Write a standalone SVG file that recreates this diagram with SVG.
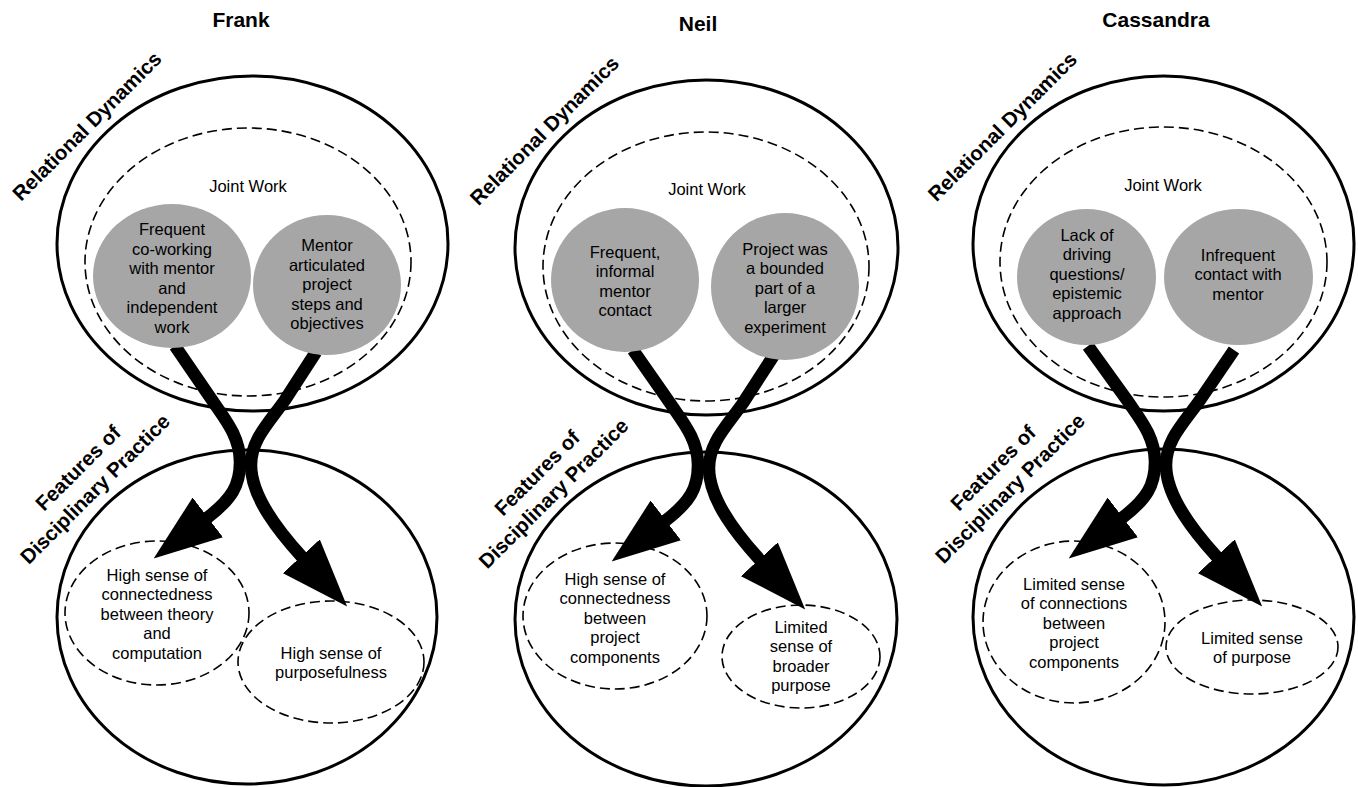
<svg xmlns="http://www.w3.org/2000/svg" width="1358" height="787" viewBox="0 0 1358 787">
<style>
text{font-family:"Liberation Sans",Arial,sans-serif;fill:#000}
.title{font-size:21px;font-weight:bold;text-anchor:middle}
.side{font-size:20.5px;font-weight:bold;text-anchor:middle}
.lbl{font-size:16.5px;text-anchor:middle}
.outer{fill:none;stroke:#000;stroke-width:3}
.dash{fill:none;stroke:#000;stroke-width:1.6;stroke-dasharray:10 5}
.gray{fill:#a6a6a6;stroke:none}
.arrow{fill:none;stroke:#000;stroke-width:12.5;marker-end:url(#head)}
</style>
<defs>
<marker id="head" markerUnits="userSpaceOnUse" viewBox="0 0 68 50" markerWidth="68" markerHeight="50" refX="1" refY="25" orient="auto">
<path d="M0,0 L68,25 L0,50 Z" fill="#000"/>
</marker>
</defs>
<rect width="1358" height="787" fill="#fff"/>

<!-- Frank panel -->
<g id="frank-panel">
<text class="title" x="241" y="27">Frank</text>
<ellipse class="outer" cx="252.5" cy="243.5" rx="195.5" ry="167.5"/>
<ellipse class="outer" cx="247" cy="617" rx="190" ry="167"/>
<text class="side" transform="translate(92,131) rotate(-45)">Relational Dynamics</text>
<text class="side" transform="translate(83,473) rotate(-45)">Features of</text>
<text class="side" transform="translate(100,494) rotate(-45)">Disciplinary Practice</text>
</g>
<g id="frank-joint-work">
<ellipse class="dash" cx="248" cy="262" rx="163" ry="134"/>
<text class="lbl" x="248" y="191.5">Joint Work</text>
</g>
<g id="frank-connectedness">
<ellipse class="dash" cx="157" cy="613" rx="92" ry="72"/>
<text class="lbl" x="157" y="580.5"><tspan x="157">High sense of</tspan><tspan x="157" dy="19.5">connectedness</tspan><tspan x="157" dy="19.5">between theory</tspan><tspan x="157" dy="19.5">and</tspan><tspan x="157" dy="19.5">computation</tspan></text>
</g>
<g id="frank-purposefulness">
<ellipse class="dash" cx="331" cy="662" rx="93" ry="61"/>
<text class="lbl" x="331" y="658.5"><tspan x="331">High sense of</tspan><tspan x="331" dy="19.5">purposefulness</tspan></text>
</g>

<!-- Neil panel -->
<g id="neil-panel">
<text class="title" x="698" y="31">Neil</text>
<ellipse class="outer" cx="706.5" cy="247.5" rx="191.5" ry="167.5"/>
<ellipse class="outer" cx="706" cy="619" rx="191" ry="167"/>
<text class="side" transform="translate(549.5,135.5) rotate(-45)">Relational Dynamics</text>
<text class="side" transform="translate(542,478) rotate(-45)">Features of</text>
<text class="side" transform="translate(558.5,498.5) rotate(-45)">Disciplinary Practice</text>
</g>
<g id="neil-joint-work">
<ellipse class="dash" cx="706" cy="266.5" rx="163" ry="134.5"/>
<text class="lbl" x="707" y="194.5">Joint Work</text>
</g>
<g id="neil-connectedness">
<ellipse class="dash" cx="615" cy="616" rx="92" ry="73"/>
<text class="lbl" x="615" y="584.5"><tspan x="615">High sense of</tspan><tspan x="615" dy="19.5">connectedness</tspan><tspan x="615" dy="19.5">between</tspan><tspan x="615" dy="19.5">project</tspan><tspan x="615" dy="19.5">components</tspan></text>
</g>
<g id="neil-purpose">
<ellipse class="dash" cx="801" cy="656.5" rx="79" ry="51.5"/>
<text class="lbl" x="801" y="632.5"><tspan x="801">Limited</tspan><tspan x="801" dy="19.5">sense of</tspan><tspan x="801" dy="19.5">broader</tspan><tspan x="801" dy="19.5">purpose</tspan></text>
</g>

<!-- Cassandra panel -->
<g id="cassandra-panel">
<text class="title" x="1156" y="27">Cassandra</text>
<ellipse class="outer" cx="1163.5" cy="243.5" rx="190.5" ry="167.5"/>
<ellipse class="outer" cx="1163.5" cy="617" rx="190.5" ry="168"/>
<text class="side" transform="translate(1007.5,131.5) rotate(-45)">Relational Dynamics</text>
<text class="side" transform="translate(998,473) rotate(-45)">Features of</text>
<text class="side" transform="translate(1015,493.5) rotate(-45)">Disciplinary Practice</text>
</g>
<g id="cassandra-joint-work">
<ellipse class="dash" cx="1163.5" cy="262" rx="163.5" ry="135"/>
<text class="lbl" x="1163" y="190.5">Joint Work</text>
</g>
<g id="cassandra-connections">
<ellipse class="dash" cx="1074" cy="622" rx="91" ry="81"/>
<text class="lbl" x="1074" y="589.5"><tspan x="1074">Limited sense</tspan><tspan x="1074" dy="19.5">of connections</tspan><tspan x="1074" dy="19.5">between</tspan><tspan x="1074" dy="19.5">project</tspan><tspan x="1074" dy="19.5">components</tspan></text>
</g>
<g id="cassandra-purpose">
<ellipse class="dash" cx="1252" cy="647" rx="86" ry="47"/>
<text class="lbl" x="1252" y="643.5"><tspan x="1252">Limited sense</tspan><tspan x="1252" dy="19.5">of purpose</tspan></text>
</g>

<!-- Connectors -->
<g id="connectors">
<path class="arrow" d="M175,346 L212,400 C224,418 240,436 240,462 C240,485 232,499 207,518"/>
<path class="arrow" d="M316,352 L285,400 C268,424 251,440 251,465 C251,498 281,534 302,557"/>
<path class="arrow" d="M633,350 L670,403 C682,421 698,439 698,465 C698,488 690,502 665,521"/>
<path class="arrow" d="M774,355 L743,403 C726,427 709,443 709,468 C709,501 739,537 760,560"/>
<path class="arrow" d="M1088,346 L1127,400 C1139,418 1155,436 1155,462 C1155,485 1147,499 1122,518"/>
<path class="arrow" d="M1234,350 L1200,400 C1183,424 1166,440 1166,465 C1166,498 1196,534 1217,557"/>
</g>

<!-- Gray nodes -->
<g id="frank-coworking">
<ellipse class="gray" cx="172" cy="276" rx="79" ry="72"/>
<text class="lbl" x="172" y="235"><tspan x="172">Frequent</tspan><tspan x="172" dy="19.5">co-working</tspan><tspan x="172" dy="19.5">with mentor</tspan><tspan x="172" dy="19.5">and</tspan><tspan x="172" dy="19.5">independent</tspan><tspan x="172" dy="19.5">work</tspan></text>
</g>
<g id="frank-mentor-articulated">
<ellipse class="gray" cx="327" cy="285" rx="74" ry="70"/>
<text class="lbl" x="327" y="251"><tspan x="327">Mentor</tspan><tspan x="327" dy="19.5">articulated</tspan><tspan x="327" dy="19.5">project</tspan><tspan x="327" dy="19.5">steps and</tspan><tspan x="327" dy="19.5">objectives</tspan></text>
</g>
<g id="neil-frequent-contact">
<ellipse class="gray" cx="625" cy="280" rx="74" ry="72"/>
<text class="lbl" x="625" y="257.5"><tspan x="625">Frequent,</tspan><tspan x="625" dy="19.5">informal</tspan><tspan x="625" dy="19.5">mentor</tspan><tspan x="625" dy="19.5">contact</tspan></text>
</g>
<g id="neil-bounded-project">
<ellipse class="gray" cx="785" cy="286.5" rx="74" ry="73.5"/>
<text class="lbl" x="785" y="254.5"><tspan x="785">Project was</tspan><tspan x="785" dy="19.5">a bounded</tspan><tspan x="785" dy="19.5">part of a</tspan><tspan x="785" dy="19.5">larger</tspan><tspan x="785" dy="19.5">experiment</tspan></text>
</g>
<g id="cassandra-driving-questions">
<ellipse class="gray" cx="1086.5" cy="277" rx="69.5" ry="68"/>
<text class="lbl" x="1087" y="240.5"><tspan x="1087">Lack of</tspan><tspan x="1087" dy="19.5">driving</tspan><tspan x="1087" dy="19.5">questions/</tspan><tspan x="1087" dy="19.5">epistemic</tspan><tspan x="1087" dy="19.5">approach</tspan></text>
</g>
<g id="cassandra-infrequent-contact">
<ellipse class="gray" cx="1238.5" cy="277" rx="74.5" ry="68"/>
<text class="lbl" x="1238" y="260.5"><tspan x="1238">Infrequent</tspan><tspan x="1238" dy="19.5">contact with</tspan><tspan x="1238" dy="19.5">mentor</tspan></text>
</g>
</svg>
